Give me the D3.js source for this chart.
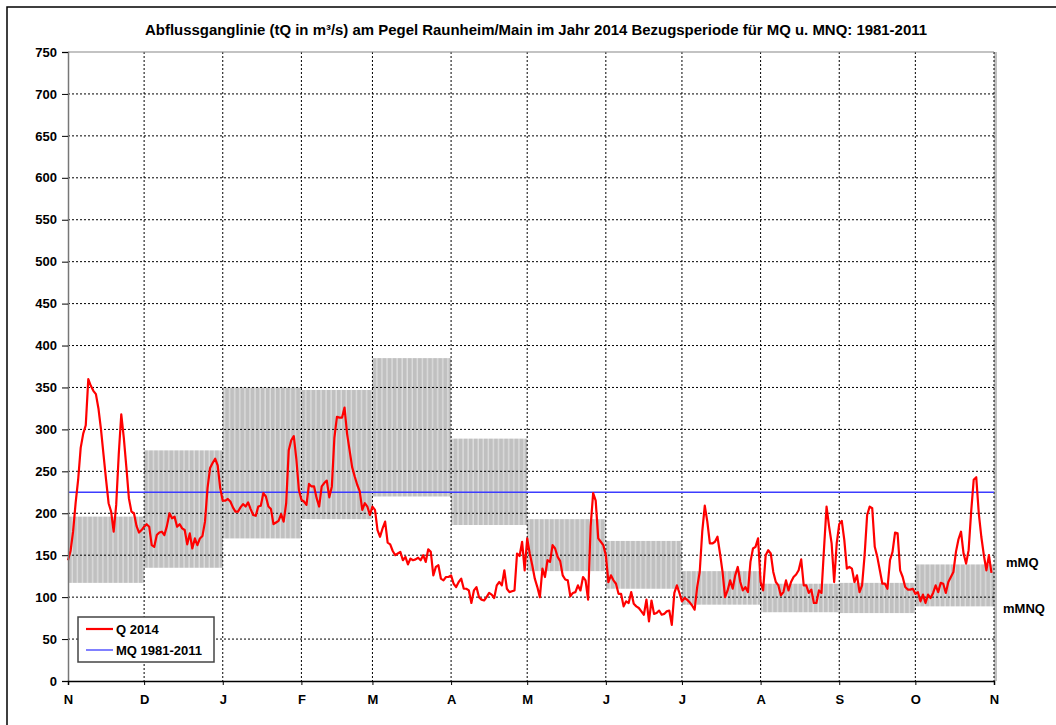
<!DOCTYPE html>
<html>
<head>
<meta charset="utf-8">
<script src="https://cdn.jsdelivr.net/npm/d3@7"></script>
<style>
  body { margin: 0; background: #fff; }
  svg { display: block; font-family: "Liberation Sans", Arial, sans-serif; }
  .tick text { font-weight: bold; font-size: 13px; fill: #000; }
</style>
</head>
<body>
<svg width="1056" height="725"></svg>
<script>
// hydrological year Nov 2013 - Oct 2014
const startDate = new Date(2013, 10, 1);
const monthLabels = ['N', 'D', 'J', 'F', 'M', 'A', 'M', 'J', 'J', 'A', 'S', 'O', 'N'];
const mMQ  = [196, 275, 350, 347, 385, 289, 193, 167, 131, 116, 117, 139];
const mMNQ = [117, 135, 170, 193, 220, 186, 131, 110,  91,  82,  81,  89];
const MQ = 225;
const yTicks = d3.range(0, 751, 50);

// daily discharge Q 2014, month by month
const qNov = [144,155,178,212,240,278,295,305,360,352,346,342,325,300,270,240,212,202,178,210,270,318,290,255,218,202,200,185,177,180];
const qDec = [184,187,184,162,160,174,177,178,174,185,200,194,196,184,187,182,180,163,176,158,170,162,170,173,190,230,254,260,265,257,230];
const qJan = [215,215,217,214,207,202,202,207,211,208,213,205,198,197,208,209,224,220,208,205,187,189,191,199,190,212,275,287,292,265,228];
const qFeb = [216,214,210,235,232,232,218,208,232,236,239,219,232,290,315,314,314,326,295,275,255,244,234,226,204,212,208,198];
const qMar = [208,204,180,172,182,190,165,163,155,150,152,154,144,148,139,146,144,145,147,144,150,142,157,154,126,136,138,122,120,124,124];
const qApr = [126,116,112,118,122,110,110,108,93,108,112,100,97,96,100,105,103,99,114,118,114,132,110,106,107,108,152,149,166,132];
const qMay = [170,152,138,122,112,100,134,124,144,142,162,158,148,143,126,121,120,101,105,106,114,108,124,120,97,184,224,215,170,166,162];
const qJun = [150,118,126,120,116,104,104,89,95,93,106,92,89,87,83,79,97,71,96,80,81,84,79,80,83,84,67,105,114,105];
const qJul = [95,99,97,94,90,85,112,130,178,209,190,164,164,166,172,152,130,100,108,120,110,126,136,118,108,112,106,142,158,160,170];
const qAug = [118,108,150,156,152,130,118,114,102,106,120,108,118,124,127,132,145,114,114,105,109,93,93,108,105,158,208,184,164,118,164];
const qSep = [187,191,168,134,136,134,118,126,106,114,150,198,208,206,160,148,132,116,116,110,144,154,177,176,132,124,112,109,109,110];
const qOct = [104,106,95,103,93,103,99,105,114,106,117,116,105,118,124,130,154,169,178,152,140,156,202,240,243,200,172,150,132,150,129];
const q2014 = [].concat(qNov, qDec, qJan, qFeb, qMar, qApr, qMay, qJun, qJul, qAug, qSep, qOct);

const svg = d3.select('svg');
const plotL = 68, plotR = 994, plotT = 52, plotB = 681;

const months = d3.timeMonth.range(startDate, new Date(2014, 10, 2));

const x = d3.scaleTime()
    .domain([startDate, months[months.length - 1]])
    .range([plotL, plotR]);

const y = d3.scaleLinear()
    .domain([0, 750])
    .range([plotB, plotT]);

// outer frame
svg.append('rect')
    .attr('x', 7).attr('y', 7)
    .attr('width', 1070).attr('height', 740)
    .attr('fill', 'none')
    .attr('stroke', '#000')
    .attr('stroke-width', 1.5);

svg.append('text')
    .attr('x', 145).attr('y', 35)
    .attr('font-weight', 'bold')
    .attr('font-size', 14.5)
    .attr('textLength', 782)
    .attr('lengthAdjust', 'spacingAndGlyphs')
    .text('Abflussganglinie (tQ in m³/s) am Pegel Raunheim/Main im Jahr 2014 Bezugsperiode für MQ u. MNQ: 1981-2011');

// stripe pattern for the mMNQ - mMQ bands (two days per stripe)
const dayW = (plotR - plotL) / 365;
const pat = svg.append('defs').append('pattern')
    .attr('id', 'stripes')
    .attr('patternUnits', 'userSpaceOnUse')
    .attr('x', plotL).attr('y', 0)
    .attr('width', dayW * 2).attr('height', 10);
pat.append('rect').attr('width', dayW * 2).attr('height', 10).attr('fill', '#dcdcdc');
pat.append('rect').attr('width', dayW * 1.45).attr('height', 10).attr('fill', '#c0c0c0');

svg.append('g').selectAll('rect')
    .data(mMQ)
    .join('rect')
    .attr('x', (d, i) => x(months[i]))
    .attr('width', (d, i) => x(months[i + 1]) - x(months[i]))
    .attr('y', d => y(d))
    .attr('height', (d, i) => y(mMNQ[i]) - y(d))
    .attr('fill', 'url(#stripes)');

// right edge strip
svg.append('line')
    .attr('x1', plotR + 1.5).attr('x2', plotR + 1.5)
    .attr('y1', plotT).attr('y2', plotB)
    .attr('stroke', '#c0c0c0')
    .attr('stroke-width', 3);

// grid
svg.append('g').selectAll('line')
    .data(yTicks.filter(d => d > 0 && d < 750))
    .join('line')
    .attr('x1', plotL).attr('x2', plotR)
    .attr('y1', d => y(d)).attr('y2', d => y(d))
    .attr('stroke', '#000')
    .attr('stroke-dasharray', '2,2')
    .attr('stroke-width', 1);

svg.append('g').selectAll('line')
    .data(months.slice(1))
    .join('line')
    .attr('x1', d => x(d)).attr('x2', d => x(d))
    .attr('y1', plotT).attr('y2', plotB)
    .attr('stroke', '#000')
    .attr('stroke-dasharray', '2,2')
    .attr('stroke-width', 1);

// top border
svg.append('line')
    .attr('x1', plotL).attr('x2', plotR)
    .attr('y1', plotT).attr('y2', plotT)
    .attr('stroke', '#888')
    .attr('stroke-width', 1.2);

// MQ line
svg.append('line')
    .attr('x1', plotL).attr('x2', plotR)
    .attr('y1', y(MQ)).attr('y2', y(MQ))
    .attr('stroke', '#3c3cff')
    .attr('stroke-width', 1.5);

// Q 2014
const line = d3.line()
    .x((d, i) => x(d3.timeDay.offset(startDate, i)))
    .y(d => y(d));

svg.append('path')
    .datum(q2014)
    .attr('fill', 'none')
    .attr('stroke', '#ff0000')
    .attr('stroke-width', 2.2)
    .attr('stroke-linejoin', 'round')
    .attr('d', line);

// axes
const yAxis = svg.append('g')
    .attr('transform', `translate(${plotL},0)`)
    .call(d3.axisLeft(y).tickValues(yTicks).tickSize(6).tickPadding(5));
yAxis.select('.domain').attr('stroke', '#777').attr('stroke-width', 1.5);

const xAxis = svg.append('g')
    .attr('transform', `translate(0,${plotB})`)
    .call(d3.axisBottom(x).tickValues(months).tickSize(4).tickPadding(6)
        .tickFormat((d, i) => monthLabels[i]));
xAxis.select('.domain').attr('stroke', '#000').attr('stroke-width', 1.5);
xAxis.selectAll('.tick text').attr('dy', '1em');

// band labels
svg.append('text')
    .attr('x', 1006).attr('y', y(mMQ[11]) + 3)
    .attr('font-weight', 'bold').attr('font-size', 13)
    .text('mMQ');
svg.append('text')
    .attr('x', 1003).attr('y', y(mMNQ[11]) + 7)
    .attr('font-weight', 'bold').attr('font-size', 13)
    .text('mMNQ');

// legend
const lg = svg.append('g').attr('transform', 'translate(78,617)');
lg.append('rect')
    .attr('width', 136).attr('height', 45)
    .attr('fill', '#fff')
    .attr('stroke', '#444')
    .attr('stroke-width', 1.5);
const legendItems = [
    {label: 'Q 2014', color: '#ff0000', w: 2.2},
    {label: 'MQ 1981-2011', color: '#3c3cff', w: 1.3}
];
legendItems.forEach((d, i) => {
    const yy = 12 + i * 21;
    lg.append('line')
        .attr('x1', 8).attr('x2', 35)
        .attr('y1', yy).attr('y2', yy)
        .attr('stroke', d.color).attr('stroke-width', d.w);
    lg.append('text')
        .attr('x', 38).attr('y', yy + 5)
        .attr('font-weight', 'bold').attr('font-size', 13)
        .text(d.label);
});
</script>
</body>
</html>
